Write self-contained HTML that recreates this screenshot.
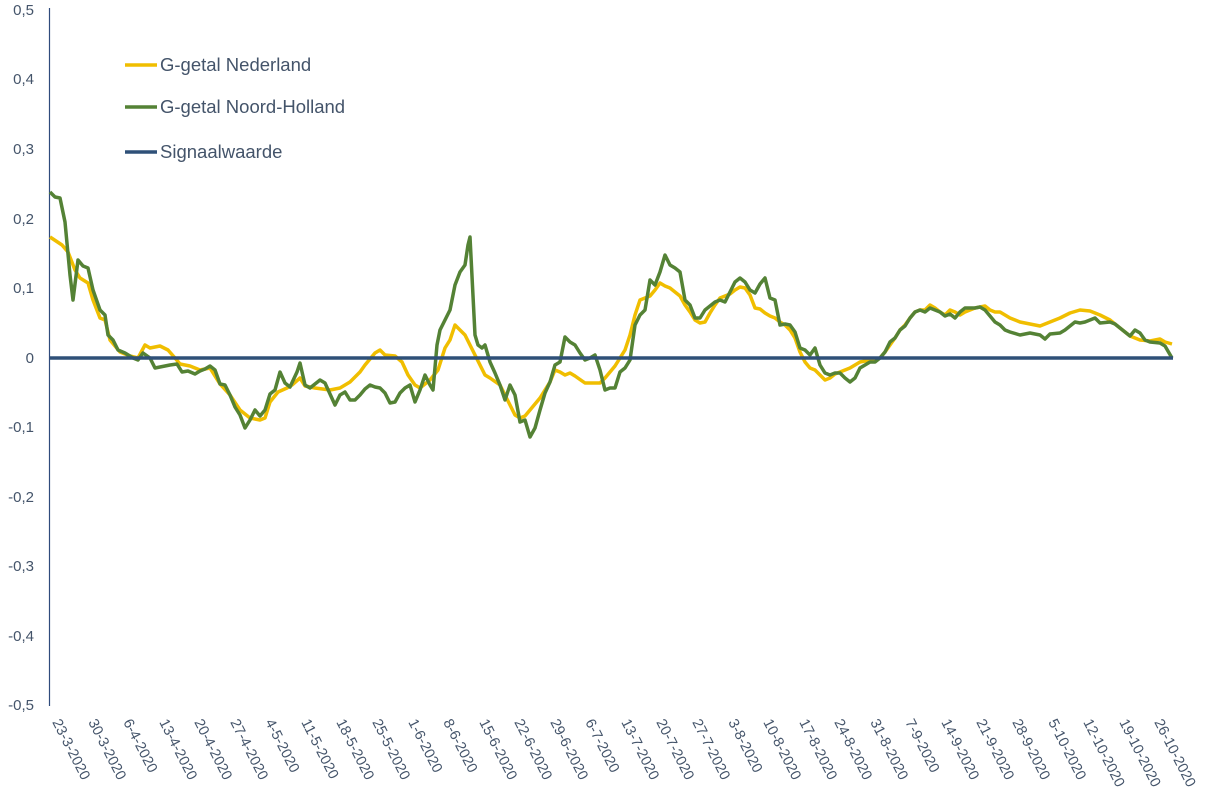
<!DOCTYPE html>
<html><head><meta charset="utf-8"><style>
body{margin:0;background:#fff}
svg{display:block;font-family:"Liberation Sans",sans-serif}
</style></head><body>
<svg width="1219" height="796" viewBox="0 0 1219 796">
<g fill="#44546a" font-size="15" text-anchor="end">
<text x="34" y="15">0,5</text><text x="34" y="84">0,4</text><text x="34" y="154">0,3</text>
<text x="34" y="224">0,2</text><text x="34" y="293">0,1</text><text x="34" y="363">0</text>
<text x="34" y="432">-0,1</text><text x="34" y="502">-0,2</text><text x="34" y="571">-0,3</text>
<text x="34" y="641">-0,4</text><text x="34" y="710">-0,5</text>
</g>
<line x1="49.5" y1="8" x2="49.5" y2="706" stroke="#2f4b7c" stroke-width="1.2"/>
<polyline fill="none" stroke="#f0be00" stroke-width="3.5" stroke-linejoin="round" points="50,237 62,245 68,252 75,270 80,278 88,283 93,300 100,318 105,320 110,340 115,346 120,352 130,356 138,358 145,345 150,348 160,346 168,350 175,358 180,364 190,366 200,370 210,368 220,384 230,395 240,410 250,418 260,420 265,418 270,402 278,392 287,388 292,385 300,378 305,386 315,388 330,390 340,388 350,382 360,372 365,365 375,353 380,350 385,355 395,356 402,362 408,375 415,385 420,388 430,380 438,370 445,348 450,340 455,325 460,330 465,335 470,345 475,355 480,365 485,375 490,378 500,385 505,395 510,405 515,415 520,418 525,416 530,410 540,398 545,390 550,382 555,370 560,372 565,375 570,373 575,376 585,383 600,383 605,378 610,372 615,366 620,358 625,350 630,335 635,315 640,300 645,298 650,296 655,290 660,283 665,286 670,288 675,292 680,296 685,305 690,312 695,320 700,323 705,322 710,313 715,305 720,298 725,296 730,294 735,290 740,287 745,288 750,295 755,308 760,309 765,313 770,316 775,318 780,322 785,325 790,330 795,338 800,352 805,362 810,368 815,370 820,375 825,380 830,378 835,374 840,372 845,370 850,368 855,365 860,362 870,360 880,358 885,352 890,345 895,338 900,330 905,325 910,318 915,312 920,310 925,310 930,305 935,308 940,312 945,315 950,310 955,312 960,315 965,312 970,310 975,308 980,307 985,306 990,310 995,312 1000,312 1010,318 1020,322 1030,324 1040,326 1045,324 1050,322 1060,318 1070,313 1080,310 1090,311 1100,315 1110,320 1120,328 1130,336 1140,340 1150,341 1160,339 1165,342 1172,344"/>
<polyline fill="none" stroke="#548235" stroke-width="3.5" stroke-linejoin="round" points="50,192 55,197 60,198 65,222 70,275 73,300 78,260 83,266 88,268 93,290 100,310 105,315 108,335 113,340 118,350 125,353 133,358 138,360 143,353 150,358 155,368 165,366 170,365 177,364 182,372 188,371 195,374 200,371 205,369 210,366 215,370 220,384 225,385 230,395 235,407 240,415 245,428 250,420 255,410 260,416 265,410 270,394 275,390 280,372 285,383 290,387 297,372 300,363 305,385 310,388 315,384 320,380 325,383 330,394 335,405 340,395 345,392 350,400 355,400 360,395 365,389 370,385 375,387 380,388 385,393 390,403 395,402 400,393 405,388 410,385 415,402 420,390 425,375 430,385 433,390 437,345 440,330 445,320 450,310 455,285 460,272 465,265 468,245 470,237 475,335 478,345 482,348 485,345 490,362 495,373 500,385 505,400 510,385 515,395 520,422 525,420 530,437 535,428 540,410 545,393 550,382 555,365 560,362 565,337 570,342 575,345 580,353 585,360 590,358 595,355 600,370 605,390 610,388 615,388 620,372 625,368 630,360 635,325 640,315 645,310 650,280 655,285 660,272 665,255 670,265 675,268 680,272 685,300 690,305 695,318 700,318 705,310 710,306 715,302 720,300 725,302 730,292 735,282 740,278 745,282 750,290 755,293 760,284 765,278 770,298 775,300 780,325 785,324 790,325 795,332 800,348 805,350 810,355 815,348 820,365 825,373 830,375 835,373 840,373 845,378 850,382 855,378 860,368 865,365 870,362 875,362 880,358 885,352 890,342 895,338 900,330 905,326 910,318 915,312 920,310 925,312 930,308 935,310 940,312 945,316 950,314 955,318 960,312 965,308 970,308 975,308 980,307 985,310 990,316 995,322 1000,325 1005,330 1010,332 1020,335 1030,333 1040,335 1045,339 1050,334 1060,333 1065,330 1070,326 1075,322 1080,323 1085,322 1090,320 1095,318 1100,323 1110,322 1115,324 1120,328 1125,332 1130,336 1135,330 1140,333 1145,340 1150,342 1160,343 1165,346 1172,358"/>
<line x1="50" y1="358" x2="1173" y2="358" stroke="#2f5078" stroke-width="3.5"/>
<line x1="125" y1="65" x2="157" y2="65" stroke="#f0be00" stroke-width="3.5"/>
<line x1="125" y1="107" x2="157" y2="107" stroke="#548235" stroke-width="3.5"/>
<line x1="125" y1="152" x2="157" y2="152" stroke="#2f5078" stroke-width="3.5"/>
<g fill="#44546a" font-size="18.5">
<text x="160" y="71">G-getal Nederland</text>
<text x="160" y="113">G-getal Noord-Holland</text>
<text x="160" y="158">Signaalwaarde</text>
</g>
<g fill="#44546a" font-size="14.5">
<text transform="translate(52,722) rotate(63)">23-3-2020</text>
<text transform="translate(88,722) rotate(63)">30-3-2020</text>
<text transform="translate(123,722) rotate(63)">6-4-2020</text>
<text transform="translate(159,722) rotate(63)">13-4-2020</text>
<text transform="translate(194,722) rotate(63)">20-4-2020</text>
<text transform="translate(230,722) rotate(63)">27-4-2020</text>
<text transform="translate(265,722) rotate(63)">4-5-2020</text>
<text transform="translate(301,722) rotate(63)">11-5-2020</text>
<text transform="translate(336,722) rotate(63)">18-5-2020</text>
<text transform="translate(372,722) rotate(63)">25-5-2020</text>
<text transform="translate(408,722) rotate(63)">1-6-2020</text>
<text transform="translate(443,722) rotate(63)">8-6-2020</text>
<text transform="translate(479,722) rotate(63)">15-6-2020</text>
<text transform="translate(514,722) rotate(63)">22-6-2020</text>
<text transform="translate(550,722) rotate(63)">29-6-2020</text>
<text transform="translate(585,722) rotate(63)">6-7-2020</text>
<text transform="translate(621,722) rotate(63)">13-7-2020</text>
<text transform="translate(656,722) rotate(63)">20-7-2020</text>
<text transform="translate(692,722) rotate(63)">27-7-2020</text>
<text transform="translate(728,722) rotate(63)">3-8-2020</text>
<text transform="translate(763,722) rotate(63)">10-8-2020</text>
<text transform="translate(799,722) rotate(63)">17-8-2020</text>
<text transform="translate(834,722) rotate(63)">24-8-2020</text>
<text transform="translate(870,722) rotate(63)">31-8-2020</text>
<text transform="translate(905,722) rotate(63)">7-9-2020</text>
<text transform="translate(941,722) rotate(63)">14-9-2020</text>
<text transform="translate(976,722) rotate(63)">21-9-2020</text>
<text transform="translate(1012,722) rotate(63)">28-9-2020</text>
<text transform="translate(1048,722) rotate(63)">5-10-2020</text>
<text transform="translate(1083,722) rotate(63)">12-10-2020</text>
<text transform="translate(1119,722) rotate(63)">19-10-2020</text>
<text transform="translate(1154,722) rotate(63)">26-10-2020</text>
</g>
</svg>
</body></html>
